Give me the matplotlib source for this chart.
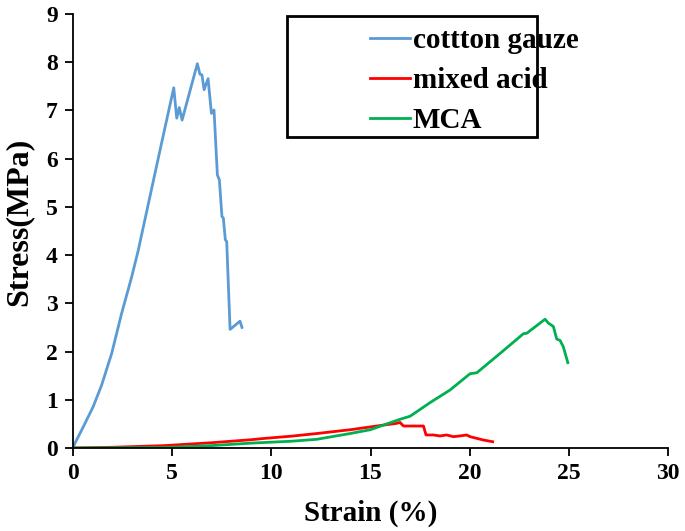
import matplotlib
matplotlib.use("Agg")
import matplotlib.pyplot as plt
from matplotlib.patches import Rectangle

# ---- data ----
cotton_x = [0, 0.1, 0.52, 1.02, 1.44, 1.95, 2.45, 2.96, 3.29, 4.39, 5.08, 5.23, 5.36, 5.50, 6.27, 6.40,
            6.50, 6.61, 6.81, 6.98, 7.11, 7.28, 7.38, 7.51, 7.58, 7.68, 7.75, 7.92, 8.42, 8.52]
cotton_y = [0, 0.1, 0.44, 0.86, 1.30, 1.96, 2.79, 3.55, 4.10, 6.18, 7.47, 6.84, 7.06, 6.80, 7.97, 7.75,
            7.74, 7.43, 7.66, 6.94, 7.01, 5.66, 5.56, 4.80, 4.77, 4.32, 4.28, 2.46, 2.63, 2.50]

acid_x = [0, 2, 4.64, 7, 8.93, 9.68, 11, 12.29, 14, 15.65, 16.3, 16.49, 16.66, 17.67, 17.80,
          18.17, 18.5, 18.84, 19.18, 19.5, 19.85, 20.02, 20.36, 20.69, 21.16]
acid_y = [0, 0.015, 0.05, 0.11, 0.17, 0.20, 0.245, 0.30, 0.38, 0.475, 0.51, 0.53, 0.456, 0.456,
          0.27, 0.27, 0.25, 0.27, 0.235, 0.25, 0.27, 0.235, 0.20, 0.166, 0.13]

mca_x = [0, 4.64, 7, 8.93, 9.68, 11, 12.29, 13.97, 15.0, 15.65, 16.49, 17.0, 18.0, 19.0,
         20.02, 20.36, 21.53, 22.71, 22.88, 23.80, 23.97, 24.22, 24.39, 24.56, 24.72, 24.95]
mca_y = [0, 0.01, 0.05, 0.10, 0.115, 0.14, 0.18, 0.30, 0.38, 0.475, 0.595, 0.66, 0.94, 1.2,
         1.54, 1.56, 1.96, 2.37, 2.38, 2.67, 2.59, 2.52, 2.26, 2.23, 2.10, 1.77]

labels = ["cottton gauze", "mixed acid", "MCA"]
colors = ["#5B9BD5", "#FF0000", "#00B050"]
x_ticks = [0, 5, 10, 15, 20, 25, 30]
y_ticks = [0, 1, 2, 3, 4, 5, 6, 7, 8, 9]

plt.rcParams['font.family'] = ['Liberation Serif', 'DejaVu Serif']
plt.rcParams['font.weight'] = 'bold'

W, H = 685, 531
fig = plt.figure(figsize=(W / 100, H / 100), dpi=100)
ax = fig.add_axes([73 / W, 1 - 448 / H, (668 - 73) / W, (448 - 14) / H])

for xs, ys, lab, c in zip([cotton_x, acid_x, mca_x], [cotton_y, acid_y, mca_y], labels, colors):
    ax.plot(xs, ys, color=c, lw=2.0, label=lab, solid_joinstyle='round')

ax.set_xlim(0, 30)
ax.set_ylim(0, 9)
ax.set_xticks(x_ticks)
ax.set_yticks(y_ticks)
for s in ['top', 'right']:
    ax.spines[s].set_visible(False)
for s in ['left', 'bottom']:
    ax.spines[s].set_linewidth(1.3)
ax.tick_params(direction='out', length=6, width=1.3, labelsize=17, pad=5)
for lbl in ax.get_xticklabels() + ax.get_yticklabels():
    lbl.set_fontweight('bold')

ax.set_xlabel("Strain (%)", fontsize=21, fontweight='bold', labelpad=11)
ax.set_ylabel("Stress(MPa)", fontsize=23, fontweight='bold')
ax.yaxis.set_label_coords(-0.067, 0.522)

# legend frame (Excel style box)
rect = Rectangle((287 / W, 1 - 137 / H), (537 - 287) / W, (137 - 16) / H,
                 transform=fig.transFigure, fill=False, edgecolor='black', lw=2, zorder=5)
fig.patches.append(rect)

leg = ax.legend(loc='upper left', bbox_to_anchor=(361 / W, 1 - 18 / H),
                bbox_transform=fig.transFigure, frameon=False,
                prop={'weight': 'bold', 'size': 21}, handlelength=1.37,
                handletextpad=0.1, labelspacing=0.45, borderaxespad=0, borderpad=0.3)

fig.savefig("out.png", dpi=100)
